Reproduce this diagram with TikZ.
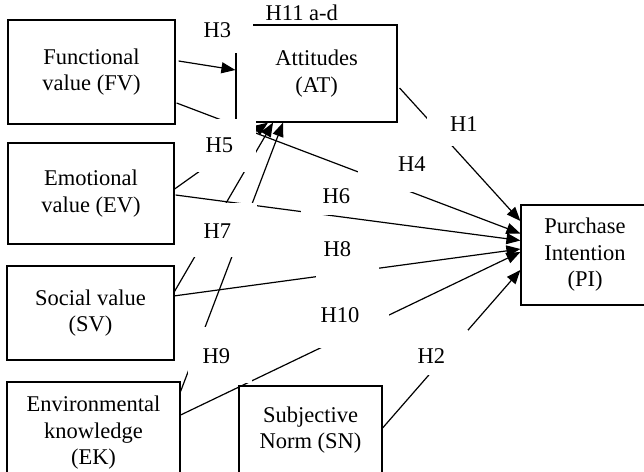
\documentclass[tikz,border=0pt]{standalone}
\usepackage{fontspec}
\setmainfont{Liberation Serif}
\usetikzlibrary{arrows.meta, calc, positioning}
\newcommand{\lab}{\fontsize{22.5}{26.5}\selectfont}

\begin{document}
\begin{tikzpicture}[x=1pt,y=-1pt,line width=1.2pt,>={Triangle[length=14pt,width=11pt]},
  var/.style={draw, align=center, inner sep=0pt, font=\lab},
  hyp/.style={fill=white, anchor=base west, inner ysep=0pt, font=\lab}]
\useasboundingbox (0,0) rectangle (644,471);
\node[var, minimum width=167, minimum height=104] (fv) at (91.5,72) {Functional\\value (FV)};
\node[var, minimum width=161, minimum height=97] (at) at (316.5,73.5) {Attitudes\\(AT)};
\node[var, minimum width=166, minimum height=101] (ev) at (91,193.5) {Emotional\\value (EV)};
\node[var, minimum width=167, minimum height=94] (sv) at (90.5,313) {Social value\\(SV)};
\node[var, minimum width=173, minimum height=102] (ek) at (93.5,433) {Environmental\\knowledge\\(EK)};
\node[var, minimum width=143, minimum height=88] (sn) at (310.5,430) {Subjective\\Norm (SN)};
\node[var, minimum width=128, minimum height=100] (pi) at (585,255) {Purchase\\Intention\\(PI)};

\draw[->] ($(fv.east)+(3,-11)$) -- ($(at.west)+(0,-3.5)$);
\draw[->] ($(fv.east)+(1,31)$) -- ($(pi.west)+(0,-21.5)$);
\draw[->] ($(at.east)+(2,14.5)$) -- ($(pi.west)+(0,-34)$);
\draw[->] ($(ev.east)+(0,-4.5)$) -- ($(at.south)+(-48.5,0)$);
\draw[->] ($(ev.east)+(1,1.5)$) -- ($(pi.west)+(0,-14.5)$);
\draw[->] ($(sv.east)+(-1,-20)$) -- ($(at.south)+(-43.5,0)$);
\draw[->] ($(sv.east)+(-1,-17)$) -- ($(pi.west)+(0,-6)$);
\draw[->] ($(ek.north east)+(0,10)$) -- ($(at.south)+(-33.5,0)$);
\draw[->] ($(ek.east)+(0,-18)$) -- ($(pi.west)+(0,-3)$);
\draw[->] ($(sn.east)+(0,-2)$) -- ($(pi.west)+(0,15)$);

\node[hyp, inner xsep=17pt, text width=32pt, text height=29pt, text depth=16pt, align=left] (h3) at (186,37) {H3};
\node[hyp, inner xsep=25pt, text width=25pt, text height=33pt, text depth=20pt, align=left] (h5) at (180,152) {H5};
\node[hyp, inner xsep=20pt, text width=33pt, text height=35pt, text depth=19pt, align=left] (h7) at (183,238) {H7};
\node[hyp, inner xsep=15pt, text width=34pt, text height=36pt, text depth=20pt, align=left] (h9) at (187,363) {H9};
\node[hyp, inner xsep=22pt, text width=28pt, text height=19pt, text depth=12pt, align=left] (h6) at (300,203) {H6};
\node[hyp, inner xsep=8pt, text width=47pt, text height=24pt, text depth=23pt, align=left] (h8) at (315,256) {H8};
\node[hyp, inner xsep=2pt, text width=66pt, text height=22pt, text depth=26pt, align=left] (h10) at (318,322) {H10};
\node[hyp, inner xsep=5pt, text width=63pt, text height=21pt, text depth=21pt, align=right] (h4) at (357,171) {H4};
\node[hyp, inner xsep=13pt, text width=38pt, text height=23pt, text depth=15pt, align=right] (h1) at (426,131) {H1};
\node[hyp, inner xsep=7pt, text width=43pt, text height=33pt, text depth=12pt, align=left] (h2) at (410,363) {H2};
\node[anchor=base west, inner sep=0pt, font=\lab] (h11) at (265,20) {H11 a-d};
\end{tikzpicture}
\end{document}
